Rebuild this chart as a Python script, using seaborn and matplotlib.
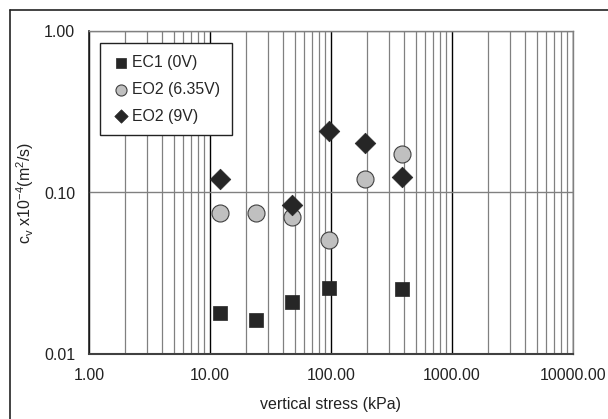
import numpy as np
import pandas as pd
import seaborn as sns
import matplotlib.pyplot as plt
from matplotlib.lines import Line2D
from matplotlib.ticker import LogLocator, FormatStrFormatter, NullFormatter

# consolidation coefficient vs vertical stress
stress_ec1 = [12, 24, 48, 96, 384]
cv_ec1 = [0.0179, 0.0162, 0.021, 0.0256, 0.0253]

stress_eo2_635 = [12, 24, 48, 96, 192, 384]
cv_eo2_635 = [0.0747, 0.0745, 0.0705, 0.0508, 0.121, 0.173]

stress_eo2_9 = [12, 48, 96, 192, 384]
cv_eo2_9 = [0.121, 0.084, 0.240, 0.203, 0.125]

sns.set_style("white")
plt.rcParams['font.family'] = ['Liberation Sans', 'DejaVu Sans']
plt.rcParams['mathtext.fontset'] = 'custom'
plt.rcParams['mathtext.rm'] = 'Liberation Sans'
plt.rcParams['mathtext.it'] = 'Liberation Sans'

fig = plt.figure(figsize=(6.08, 4.19), dpi=100)
ax = fig.add_axes([89/608, 1-354/419, 484/608, 323/419])

sns.scatterplot(x=stress_ec1, y=cv_ec1, ax=ax, marker='s', s=110, color='#262626',
                edgecolor='#262626', linewidth=0.5, label='EC1 (0V)', zorder=5)
sns.scatterplot(x=stress_eo2_635, y=cv_eo2_635, ax=ax, marker='o', s=150, color='#c0c0c0',
                edgecolor='#404040', linewidth=0.8, label='EO2 (6.35V)', zorder=5)
sns.scatterplot(x=stress_eo2_9, y=cv_eo2_9, ax=ax, marker='D', s=110, color='#262626',
                edgecolor='#262626', linewidth=0.5, label='EO2 (9V)', zorder=6)

ax.set_xscale('log')
ax.set_yscale('log')
ax.set_xlim(1, 10000)
ax.set_ylim(0.01, 1)

ax.xaxis.set_major_locator(LogLocator(base=10, numticks=10))
ax.xaxis.set_minor_locator(LogLocator(base=10, subs=np.arange(2, 10), numticks=20))
ax.xaxis.set_major_formatter(FormatStrFormatter('%.2f'))
ax.xaxis.set_minor_formatter(NullFormatter())
ax.yaxis.set_major_locator(LogLocator(base=10, numticks=10))
ax.yaxis.set_minor_locator(LogLocator(base=10, subs=[], numticks=10))
ax.yaxis.set_major_formatter(FormatStrFormatter('%.2f'))
ax.yaxis.set_minor_formatter(NullFormatter())

ax.grid(True, which='minor', axis='x', color='#808080', linewidth=0.9)
ax.grid(True, which='major', axis='x', color='#000000', linewidth=1.0)
ax.grid(True, which='major', axis='y', color='#808080', linewidth=1.0)
ax.set_axisbelow(True)

ax.tick_params(axis='both', which='major', direction='out', length=4, width=1,
               color='#404040', labelsize=11.5, labelcolor='#222222', pad=6)
ax.tick_params(axis='both', which='minor', length=0)

for side in ['top', 'right']:
    ax.spines[side].set_color('#808080')
    ax.spines[side].set_linewidth(1.0)
ax.spines['left'].set_color('#202020')
ax.spines['bottom'].set_color('#404040')
ax.spines['left'].set_linewidth(1.2)
ax.spines['bottom'].set_linewidth(1.5)

ax.set_xlabel('vertical stress (kPa)', fontsize=11.5, color='#222222', labelpad=10)
ax.set_ylabel(r'c$_\mathregular{v}$ x10$^\mathregular{-4}$(m$^\mathregular{2}$/s)',
              fontsize=11.5, color='#222222', labelpad=6)

leg = ax.legend(loc='upper left', bbox_to_anchor=(0.0227, 0.963), fontsize=11.4,
                frameon=True, fancybox=False, edgecolor='#222222', framealpha=1,
                labelspacing=0.75, handletextpad=0.1, handlelength=1.2,
                borderpad=0.75, markerscale=0.65, borderaxespad=0)
leg.get_frame().set_linewidth(1.0)

# outer chart frame
fig.add_artist(Line2D([10/608, 10/608], [0, 1-10/419], color='#222222', linewidth=1.2))
fig.add_artist(Line2D([10/608, 1], [1-10/419, 1-10/419], color='#222222', linewidth=1.2))

plt.savefig('out.png', dpi=100)
